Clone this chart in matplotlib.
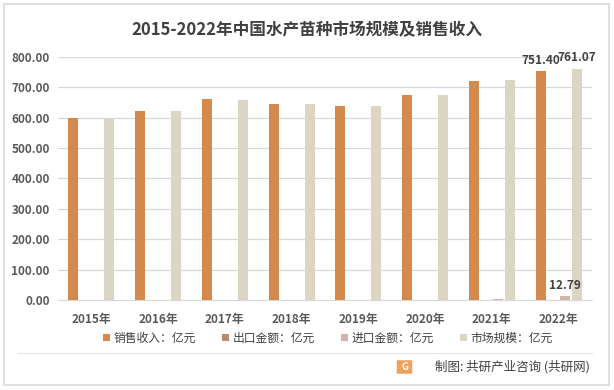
import numpy as np
import matplotlib.pyplot as plt
from matplotlib.patches import Rectangle, FancyBboxPatch

plt.rcParams['font.family'] = ['Noto Sans CJK SC', 'DejaVu Sans']

years = ['2015年', '2016年', '2017年', '2018年', '2019年', '2020年', '2021年', '2022年']
sales = [600, 622, 661, 645, 638, 674, 721, 751.40]
export = [0, 0, 0, 0, 0, 0, 0.3, 0.5]
imports = [0, 0, 0, 0, 0, 0, 3.0, 12.79]
market = [596, 621, 658, 645, 638, 674, 724, 761.07]
series_names = ['销售收入：亿元', '出口金额：亿元', '进口金额：亿元', '市场规模：亿元']
colors = ['#D38A4C', '#B98B6B', '#D4B3A8', '#DDD5C4']

fig = plt.figure(figsize=(6.14, 3.9), dpi=100)
fig.patch.set_facecolor('white')

# outer frame
fig.patches.append(Rectangle((4 / 614, 5 / 390), 605 / 614, 381 / 390, transform=fig.transFigure,
                             fill=False, edgecolor='#D9D9D9', linewidth=1.2))

ax = fig.add_axes([58 / 614, 90 / 390, 534 / 614, 243.3 / 390])

x = np.arange(len(years))
slot = 0.18
width = 0.15
all_series = [sales, export, imports, market]
bars = []
for i, (vals, c) in enumerate(zip(all_series, colors)):
    b = ax.bar(x + (i - 1.5) * slot, vals, width, color=c, label=series_names[i], zorder=3)
    bars.append(b)

ax.set_xlim(-0.5, len(years) - 0.5)
ax.set_ylim(0, 800)
ax.set_yticks(np.arange(0, 801, 100))
ax.set_yticklabels([f'{v:.2f}' for v in np.arange(0, 801, 100)])
ax.set_xticks(x)
ax.set_xticklabels(years)
ax.tick_params(axis='both', length=0, labelsize=8.5, labelcolor='#595959')
for lab in ax.get_xticklabels() + ax.get_yticklabels():
    lab.set_fontweight('bold')
ax.tick_params(axis='x', pad=9)
ax.tick_params(axis='y', pad=6)
ax.grid(axis='y', color='#D9D9D9', linewidth=0.9, zorder=0)
for s in ['top', 'right', 'left']:
    ax.spines[s].set_visible(False)
ax.spines['bottom'].set_color('#D9D9D9')

# data labels on 2022
for vals, i in [(sales, 0), (imports, 2), (market, 3)]:
    ax.annotate(f'{vals[-1]:.2f}', (x[-1] + (i - 1.5) * slot, vals[-1]), xytext=(0, 3),
                textcoords='offset points', ha='center', va='bottom',
                fontsize=8.5, fontweight='bold', color='#404040', annotation_clip=False)

fig.text(0.5, 1 - 30 / 390, '2015-2022年中国水产苗种市场规模及销售收入', ha='center', va='center',
         fontsize=12, fontweight='bold', color='#404040')

fig.legend(handles=bars, labels=series_names, loc='center', bbox_to_anchor=(328 / 614, 1 - 338 / 390),
           ncol=4, frameon=False, fontsize=8.5, handlelength=0.6, handleheight=0.6,
           handletextpad=0.3, columnspacing=2.2, labelcolor='#404040')

# separator line and source footer
fig.add_artist(plt.Line2D([18 / 614, 592 / 614], [1 - 353 / 390, 1 - 353 / 390],
                          transform=fig.transFigure, color='#E3E3E3', linewidth=0.8))
fig.patches.append(FancyBboxPatch((398 / 614, 1 - 373 / 390), 13 / 614, 12 / 390,
                                  boxstyle='round,pad=0.002', transform=fig.transFigure,
                                  facecolor='#F0A25A', edgecolor='none'))
fig.text(404.5 / 614, 1 - 367 / 390, 'G', ha='center', va='center', fontsize=7,
         fontweight='bold', color='white')
fig.text(590 / 614, 1 - 367 / 390, '制图: 共研产业咨询 (共研网)', ha='right', va='center',
         fontsize=9, color='#404040')

fig.savefig('out.png', dpi=100)
